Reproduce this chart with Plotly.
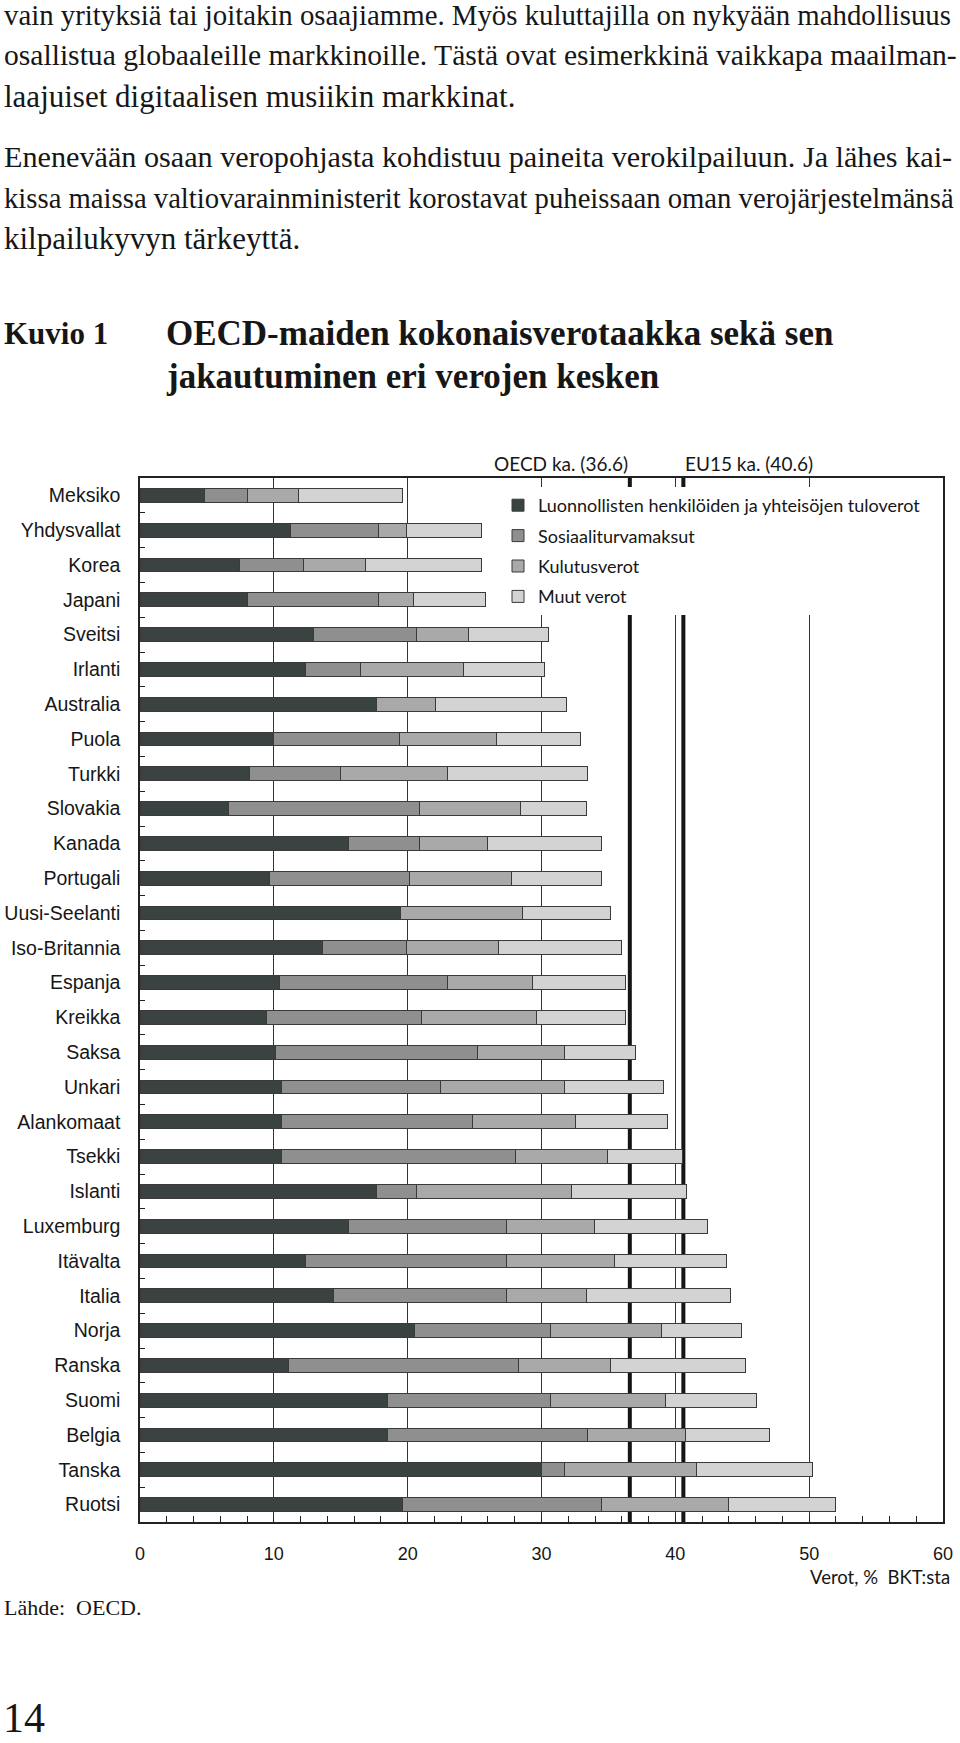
import plotly.graph_objects as go

countries = ["Meksiko", "Yhdysvallat", "Korea", "Japani", "Sveitsi", "Irlanti", "Australia",
             "Puola", "Turkki", "Slovakia", "Kanada", "Portugali", "Uusi-Seelanti",
             "Iso-Britannia", "Espanja", "Kreikka", "Saksa", "Unkari", "Alankomaat",
             "Tsekki", "Islanti", "Luxemburg", "Itävalta", "Italia", "Norja", "Ranska",
             "Suomi", "Belgia", "Tanska", "Ruotsi"]

income_tax = [4.8, 11.25, 7.4, 8.05, 13.0, 12.4, 17.65, 9.95, 8.2, 6.6, 15.6, 9.65, 19.45,
              13.65, 10.4, 9.45, 10.1, 10.55, 10.55, 10.55, 17.65, 15.55, 12.35, 14.45,
              20.5, 11.1, 18.5, 18.5, 30.0, 19.6]
social_security = [3.2, 6.6, 4.8, 9.8, 7.65, 4.1, 0.0, 9.45, 6.75, 14.25, 5.25, 10.5, 0.0,
                   6.25, 12.55, 11.6, 15.1, 11.9, 14.3, 17.5, 3.0, 11.85, 15.05, 12.95,
                   10.15, 17.15, 12.2, 14.9, 1.7, 14.9]
consumption_tax = [3.85, 2.05, 4.65, 2.55, 3.9, 7.7, 4.45, 7.25, 8.05, 7.55, 5.15, 7.6, 9.1,
                   6.9, 6.4, 8.6, 6.55, 9.3, 7.7, 6.9, 11.6, 6.55, 8.05, 5.95, 8.35, 6.9,
                   8.6, 7.35, 9.85, 9.45]
other_taxes = [7.75, 5.6, 8.65, 5.45, 5.95, 6.0, 9.8, 6.25, 10.4, 4.95, 8.5, 6.75, 6.6,
               9.15, 6.9, 6.6, 5.3, 7.35, 6.9, 5.6, 8.6, 8.45, 8.35, 10.75, 5.95, 10.1,
               6.75, 6.25, 8.7, 8.05]

series_names = ["Luonnollisten henkilöiden ja yhteisöjen tuloverot", "Sosiaaliturvamaksut",
                "Kulutusverot", "Muut verot"]
series_values = [income_tax, social_security, consumption_tax, other_taxes]
series_colors = ["#3b4242", "#8f8f8f", "#a9a9a9", "#d3d3d3"]

oecd_avg = 36.6
eu15_avg = 40.6
ref_labels = ["OECD ka. (36.6)", "EU15 ka. (40.6)"]

body_lines = [
    "vain yrityksiä tai joitakin osaajiamme. Myös kuluttajilla on nykyään mahdollisuus",
    "osallistua globaaleille markkinoille. Tästä ovat esimerkkinä vaikkapa maailman-",
    "laajuiset digitaalisen musiikin markkinat.",
    "Enenevään osaan veropohjasta kohdistuu paineita verokilpailuun. Ja lähes kai-",
    "kissa maissa valtiovarainministerit korostavat puheissaan oman verojärjestelmänsä",
    "kilpailukyvyn tärkeyttä.",
]
body_y = [15, 55, 96, 157, 198, 239]
body_size = [28.8, 29.6, 31, 30.2, 28.7, 31]

W, H = 960, 1743
L, R, T, B = 140, 943, 478, 1522


def px2x(px):
    return (px - L) / (R - L)


def py2y(py):
    return (B - py) / (B - T)


fig = go.Figure()
for name, vals, col in zip(series_names, series_values, series_colors):
    fig.add_trace(go.Bar(
        y=countries, x=vals, name=name, orientation="h", width=0.4,
        marker=dict(color=col, line=dict(color="#3a3a3a", width=1)),
        legendgroup=name,
    ))

serif = "Liberation Serif"
sans = "Liberation Sans"
gill = "Lato"
ink = "#161616"

shapes = []
for v in (oecd_avg, eu15_avg):
    shapes.append(dict(type="line", xref="x", yref="paper", x0=v, x1=v, y0=0, y1=1,
                       line=dict(color="#161616", width=4), layer="below"))

annotations = []
for line, y, s in zip(body_lines, body_y, body_size):
    annotations.append(dict(text=line, xref="paper", yref="paper", x=px2x(2), y=py2y(y),
                            xanchor="left", yanchor="middle", showarrow=False,
                            font=dict(family=serif, size=s, color=ink)))

annotations += [
    dict(text="<b>Kuvio 1</b>", xref="paper", yref="paper", x=px2x(2), y=py2y(334),
         xanchor="left", yanchor="middle", showarrow=False,
         font=dict(family=serif, size=31, color=ink)),
    dict(text="<b>OECD-maiden kokonaisverotaakka sekä sen</b>", xref="paper", yref="paper",
         x=px2x(164), y=py2y(334), xanchor="left", yanchor="middle", showarrow=False,
         font=dict(family=serif, size=35, color=ink)),
    dict(text="<b>jakautuminen eri verojen kesken</b>", xref="paper", yref="paper",
         x=px2x(164), y=py2y(377), xanchor="left", yanchor="middle", showarrow=False,
         font=dict(family=serif, size=35, color=ink)),
    dict(text=ref_labels[0], xref="x", yref="paper", x=oecd_avg, y=py2y(463),
         xanchor="right", yanchor="middle", showarrow=False,
         font=dict(family=gill, size=19, color=ink)),
    dict(text=ref_labels[1], xref="x", yref="paper", x=eu15_avg, y=py2y(463),
         xanchor="left", yanchor="middle", showarrow=False,
         font=dict(family=gill, size=19, color=ink)),
    dict(text="Verot, %  BKT:sta", xref="paper", yref="paper", x=px2x(952), y=py2y(1577),
         xanchor="right", yanchor="middle", showarrow=False,
         font=dict(family=gill, size=18.5, color=ink)),
    dict(text="Lähde:  OECD.", xref="paper", yref="paper", x=px2x(2), y=py2y(1607),
         xanchor="left", yanchor="middle", showarrow=False,
         font=dict(family=serif, size=22, color=ink)),
    dict(text="14", xref="paper", yref="paper", x=px2x(1), y=py2y(1743),
         xanchor="left", yanchor="bottom", showarrow=False,
         font=dict(family=serif, size=42, color=ink)),
]

fig.update_layout(
    width=W, height=H,
    margin=dict(l=L, r=W - R, t=T, b=H - B, pad=0, autoexpand=False),
    paper_bgcolor="white", plot_bgcolor="white",
    barmode="stack",
    showlegend=True,
    legend=dict(x=px2x(498), y=py2y(487), xanchor="left", yanchor="top",
                bgcolor="white", borderwidth=0, traceorder="grouped",
                tracegroupgap=4,
                font=dict(family=gill, size=18, color=ink)),
    xaxis=dict(range=[0, 60], dtick=10, tick0=0, showgrid=True, gridcolor="#333333",
               gridwidth=1, zeroline=False, showline=True, linecolor="#222222",
               linewidth=2, mirror=True, ticks="inside", ticklen=6, tickcolor="#222222",
               ticklabelstandoff=14, automargin=False,
               minor=dict(dtick=2, ticks="inside", ticklen=6, tickcolor="#222222",
                          showgrid=False),
               tickfont=dict(family=sans, size=18, color=ink)),
    yaxis=dict(type="category", categoryorder="array", categoryarray=countries,
               range=[29.5, -0.5], showgrid=False, zeroline=False, showline=True,
               linecolor="#222222", linewidth=1.5, mirror=True, ticks="inside",
               tickson="boundaries", ticklen=5, tickcolor="#222222",
               ticklabelstandoff=14, automargin=False,
               tickfont=dict(family=sans, size=19.5, color=ink)),
    shapes=shapes,
    annotations=annotations,
)

fig.write_html("out.html", config={"displayModeBar": False},
               post_script="document.body.style.margin='0px';")
